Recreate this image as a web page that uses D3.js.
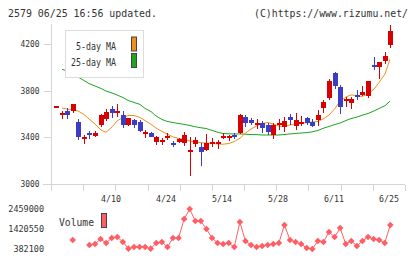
<!DOCTYPE html>
<html lang="en">
<head>
<meta charset="UTF-8">
<title>2579 chart</title>
<script src="https://d3js.org/d3.v7.min.js"></script>
<style>
    body { margin: 0; background: #fff; }
    svg text { font-family: "DejaVu Sans Mono", "Liberation Mono", monospace; fill: #333; }
</style>
</head>
<body>
<div id="chart"></div>
<script>
    // daily candles, oldest first (61 trading days up to 06/25)
    var openP  = [3652,3591,3628,3626,3531,3390,3437,3411,3510,3553,3643,3612,3591,3508,3549,3531,3426,3437,3363,3357,
                  3394,3349,3363,3354,3272,3343,3317,3291,3343,3344,3394,3394,3420,3434,3571,3549,3506,3525,3506,3420,
                  3506,3491,3571,3497,3518,3563,3530,3549,3649,3734,3954,3834,3714,3697,3763,3763,3754,4020,4005,4057,4191];
    var highP  = [3669,3626,3651,3686,3557,3424,3454,3457,3600,3643,3669,3690,3630,3570,3561,3549,3467,3450,3411,3397,
                  3434,3371,3397,3446,3400,3405,3349,3429,3391,3381,3434,3420,3434,3600,3591,3563,3554,3543,3520,3520,
                  3554,3571,3597,3606,3580,3571,3560,3634,3720,3900,3963,3849,3748,3748,3806,3843,3883,4091,4048,4129,4363];
    var lowP   = [3652,3557,3555,3608,3373,3343,3390,3403,3489,3540,3566,3577,3483,3497,3484,3448,3397,3399,3334,3334,
                  3377,3320,3354,3326,3071,3320,3154,3286,3320,3300,3383,3369,3383,3429,3486,3506,3468,3435,3420,3382,
                  3463,3450,3506,3463,3497,3510,3488,3497,3606,3720,3814,3600,3657,3643,3720,3754,3740,3977,3900,4026,4163];
    var closeP = [3669,3608,3591,3686,3399,3407,3418,3440,3591,3621,3611,3629,3508,3566,3508,3457,3443,3405,3403,3377,
                  3411,3332,3386,3420,3289,3381,3277,3354,3360,3357,3411,3411,3400,3591,3525,3520,3523,3477,3449,3506,
                  3523,3540,3549,3549,3535,3520,3500,3591,3705,3883,3843,3662,3731,3729,3746,3791,3883,4003,4048,4100,4311];

    var ma5  = [null,3651,3643,3634,3626,3596,3557,3514,3463,3443,3489,3540,3571,3587,3587,3570,3544,3512,3480,3450,
                3429,3403,3390,3381,3369,3360,3354,3351,3349,3343,3341,3347,3364,3392,3433,3471,3501,3518,3527,3514,
                3497,3493,3506,3518,3523,3525,3531,3536,3557,3591,3647,3711,3746,3763,3759,3750,3771,3814,3870,3943,4069];
    var ma25 = [null,3983,3969,3947,3917,3887,3861,3840,3819,3797,3780,3763,3741,3716,3699,3682,3648,3621,3583,3553,
                3537,3527,3518,3511,3501,3491,3482,3476,3459,3443,3433,3430,3429,3429,3427,3424,3423,3420,3420,3420,
                3420,3424,3429,3433,3437,3441,3447,3459,3477,3493,3510,3523,3544,3561,3574,3589,3604,3626,3647,3671,3711];

    var volume = [null,null,null,849000,null,null,590000,642000,901000,694000,953000,1005000,746000,400000,486000,486000,486000,400000,694000,746000,
                  486000,953000,953000,1940000,2459000,1836000,1836000,1421000,953000,694000,642000,694000,486000,1784000,797000,590000,486000,538000,590000,642000,
                  694000,1628000,849000,746000,642000,434000,382100,797000,746000,1265000,1005000,1472000,642000,797000,538000,797000,1005000,901000,849000,694000,1628000];

    var dateLabels = [{i: 10, t: "4/10"}, {i: 20, t: "4/24"}, {i: 30, t: "5/14"},
                      {i: 40, t: "5/28"}, {i: 50, t: "6/11"}, {i: 60, t: "6/25"}];
    var priceTicks = [3000, 3400, 3800, 4200];
    var volumeTicks = [382100, 1420550, 2459000];

    var width = 420, height = 259;
    var red = "#d80000", blue = "#3c3cc4", orange = "#f0901a", green = "#1ea51e", pink = "#ff5f64";

    var svg = d3.select("#chart").append("svg")
        .attr("width", width)
        .attr("height", height);

    var x = d3.scaleLinear().domain([0, 60]).range([56, 390.3]);
    var y = d3.scaleLinear().domain([3000, 4200]).range([184, 44]);
    var yv = d3.scaleLinear().domain([382100, 2459000]).range([249, 209]);
    var xt = d3.scaleLinear().domain([0, 11]).range([51, 405]);
    function px(i) { return Math.round(x(i)); }

    // header texts
    svg.append("text").attr("x", 8).attr("y", 16.5)
        .attr("font-size", 10).attr("textLength", 149).attr("lengthAdjust", "spacingAndGlyphs")
        .text("2579 06/25 16:56 updated.");
    svg.append("text").attr("x", 254).attr("y", 16.5)
        .attr("font-size", 10).attr("textLength", 154).attr("lengthAdjust", "spacingAndGlyphs")
        .text("(C)https://www.rizumu.net/");

    // axes
    var xAxis = svg.append("g")
        .attr("transform", "translate(0,184.5)")
        .call(d3.axisBottom(xt).tickValues(d3.range(12)).tickSize(6).tickSizeOuter(0).tickFormat(""));
    xAxis.selectAll("line, path").attr("stroke", "#d4d4d4").attr("shape-rendering", "crispEdges");
    xAxis.select("path").attr("d", "M43,0H405");

    var yAxis = svg.append("g")
        .attr("transform", "translate(51.5,0)")
        .call(d3.axisLeft(y).tickValues(priceTicks).tickSize(8).tickSizeOuter(0).tickPadding(4)
            .tickFormat(d3.format("d")));
    yAxis.select("path").attr("d", "M0,24V190");
    yAxis.selectAll("line, path").attr("stroke", "#d4d4d4").attr("shape-rendering", "crispEdges");
    yAxis.selectAll("text").attr("font-size", 8).style("fill", "#333")
        .attr("textLength", 19).attr("lengthAdjust", "spacingAndGlyphs");

    // moving averages
    var maLine = d3.line()
        .defined(function(d) { return d != null; })
        .x(function(d, i) { return px(i); })
        .y(function(d) { return y(d); });

    svg.append("path").datum(ma25)
        .attr("fill", "none").attr("stroke", green).attr("stroke-width", 1)
        .attr("d", maLine);
    svg.append("path").datum(ma5)
        .attr("fill", "none").attr("stroke", orange).attr("stroke-width", 1)
        .attr("d", maLine);

    // candles
    var idx = d3.range(openP.length);
    var candle = svg.append("g").attr("shape-rendering", "crispEdges")
        .selectAll("g").data(idx).enter().append("g");

    candle.append("line")
        .attr("x1", function(i) { return px(i) + 0.5; })
        .attr("x2", function(i) { return px(i) + 0.5; })
        .attr("y1", function(i) { return y(highP[i]); })
        .attr("y2", function(i) { return y(lowP[i]); })
        .attr("stroke", function(i) { return closeP[i] >= openP[i] ? red : blue; });

    candle.append("rect")
        .attr("x", function(i) { return px(i) - 2; })
        .attr("width", 5)
        .attr("y", function(i) { return y(Math.max(openP[i], closeP[i])); })
        .attr("height", function(i) { return Math.max(1, Math.abs(y(openP[i]) - y(closeP[i]))); })
        .attr("fill", function(i) { return closeP[i] >= openP[i] ? red : blue; });

    // legend
    svg.append("rect").attr("x", 65.5).attr("y", 30.5).attr("width", 78).attr("height", 47)
        .attr("fill", "#fff").attr("stroke", "#dcdcdc");
    var legend = [{t: "5-day MA", c: orange, y: 49.5, w: 40}, {t: "25-day MA", c: green, y: 66, w: 45}];
    legend.forEach(function(d) {
        svg.append("text").attr("x", 116).attr("y", d.y).attr("text-anchor", "end")
            .attr("font-size", 11).attr("textLength", d.w).attr("lengthAdjust", "spacingAndGlyphs")
            .text(d.t);
        svg.append("rect").attr("x", 131.5).attr("y", d.y - 12.5).attr("width", 5).attr("height", 14)
            .attr("fill", d.c).attr("stroke", "#444");
    });

    // date labels
    svg.selectAll(".date").data(dateLabels).enter().append("text")
        .attr("class", "date")
        .attr("x", function(d) { return px(d.i) - 1; })
        .attr("y", 201.5)
        .attr("text-anchor", "middle")
        .attr("font-size", 8)
        .attr("textLength", 20).attr("lengthAdjust", "spacingAndGlyphs")
        .text(function(d) { return d.t; });

    // volume panel
    var vAxis = svg.append("g")
        .attr("transform", "translate(51,0)")
        .call(d3.axisLeft(yv).tickValues(volumeTicks).tickSize(0).tickPadding(7).tickFormat(d3.format("d")));
    vAxis.select("path").remove();
    vAxis.selectAll("text").attr("font-size", 8).style("fill", "#333")
        .attr("textLength", function(d) { return String(d).length * 5.1; })
        .attr("lengthAdjust", "spacingAndGlyphs");

    var volLine = d3.line()
        .defined(function(d) { return d != null; })
        .x(function(d, i) { return x(i); })
        .y(function(d) { return yv(d); });

    svg.append("path").datum(volume)
        .attr("fill", "none").attr("stroke", pink).attr("stroke-width", 1)
        .attr("d", volLine);

    svg.selectAll(".vm").data(idx.filter(function(i) { return volume[i] != null; })).enter().append("path")
        .attr("class", "vm")
        .attr("transform", function(i) { return "translate(" + x(i) + "," + yv(volume[i]) + ") rotate(45)"; })
        .attr("d", d3.symbol().type(d3.symbolSquare).size(22))
        .attr("fill", pink);

    svg.append("text").attr("x", 59).attr("y", 226)
        .attr("font-size", 11).attr("textLength", 35).attr("lengthAdjust", "spacingAndGlyphs")
        .text("Volume");
    svg.append("rect").attr("x", 101.5).attr("y", 213.5).attr("width", 5).attr("height", 14)
        .attr("fill", pink).attr("stroke", "#444");
</script>
</body>
</html>
